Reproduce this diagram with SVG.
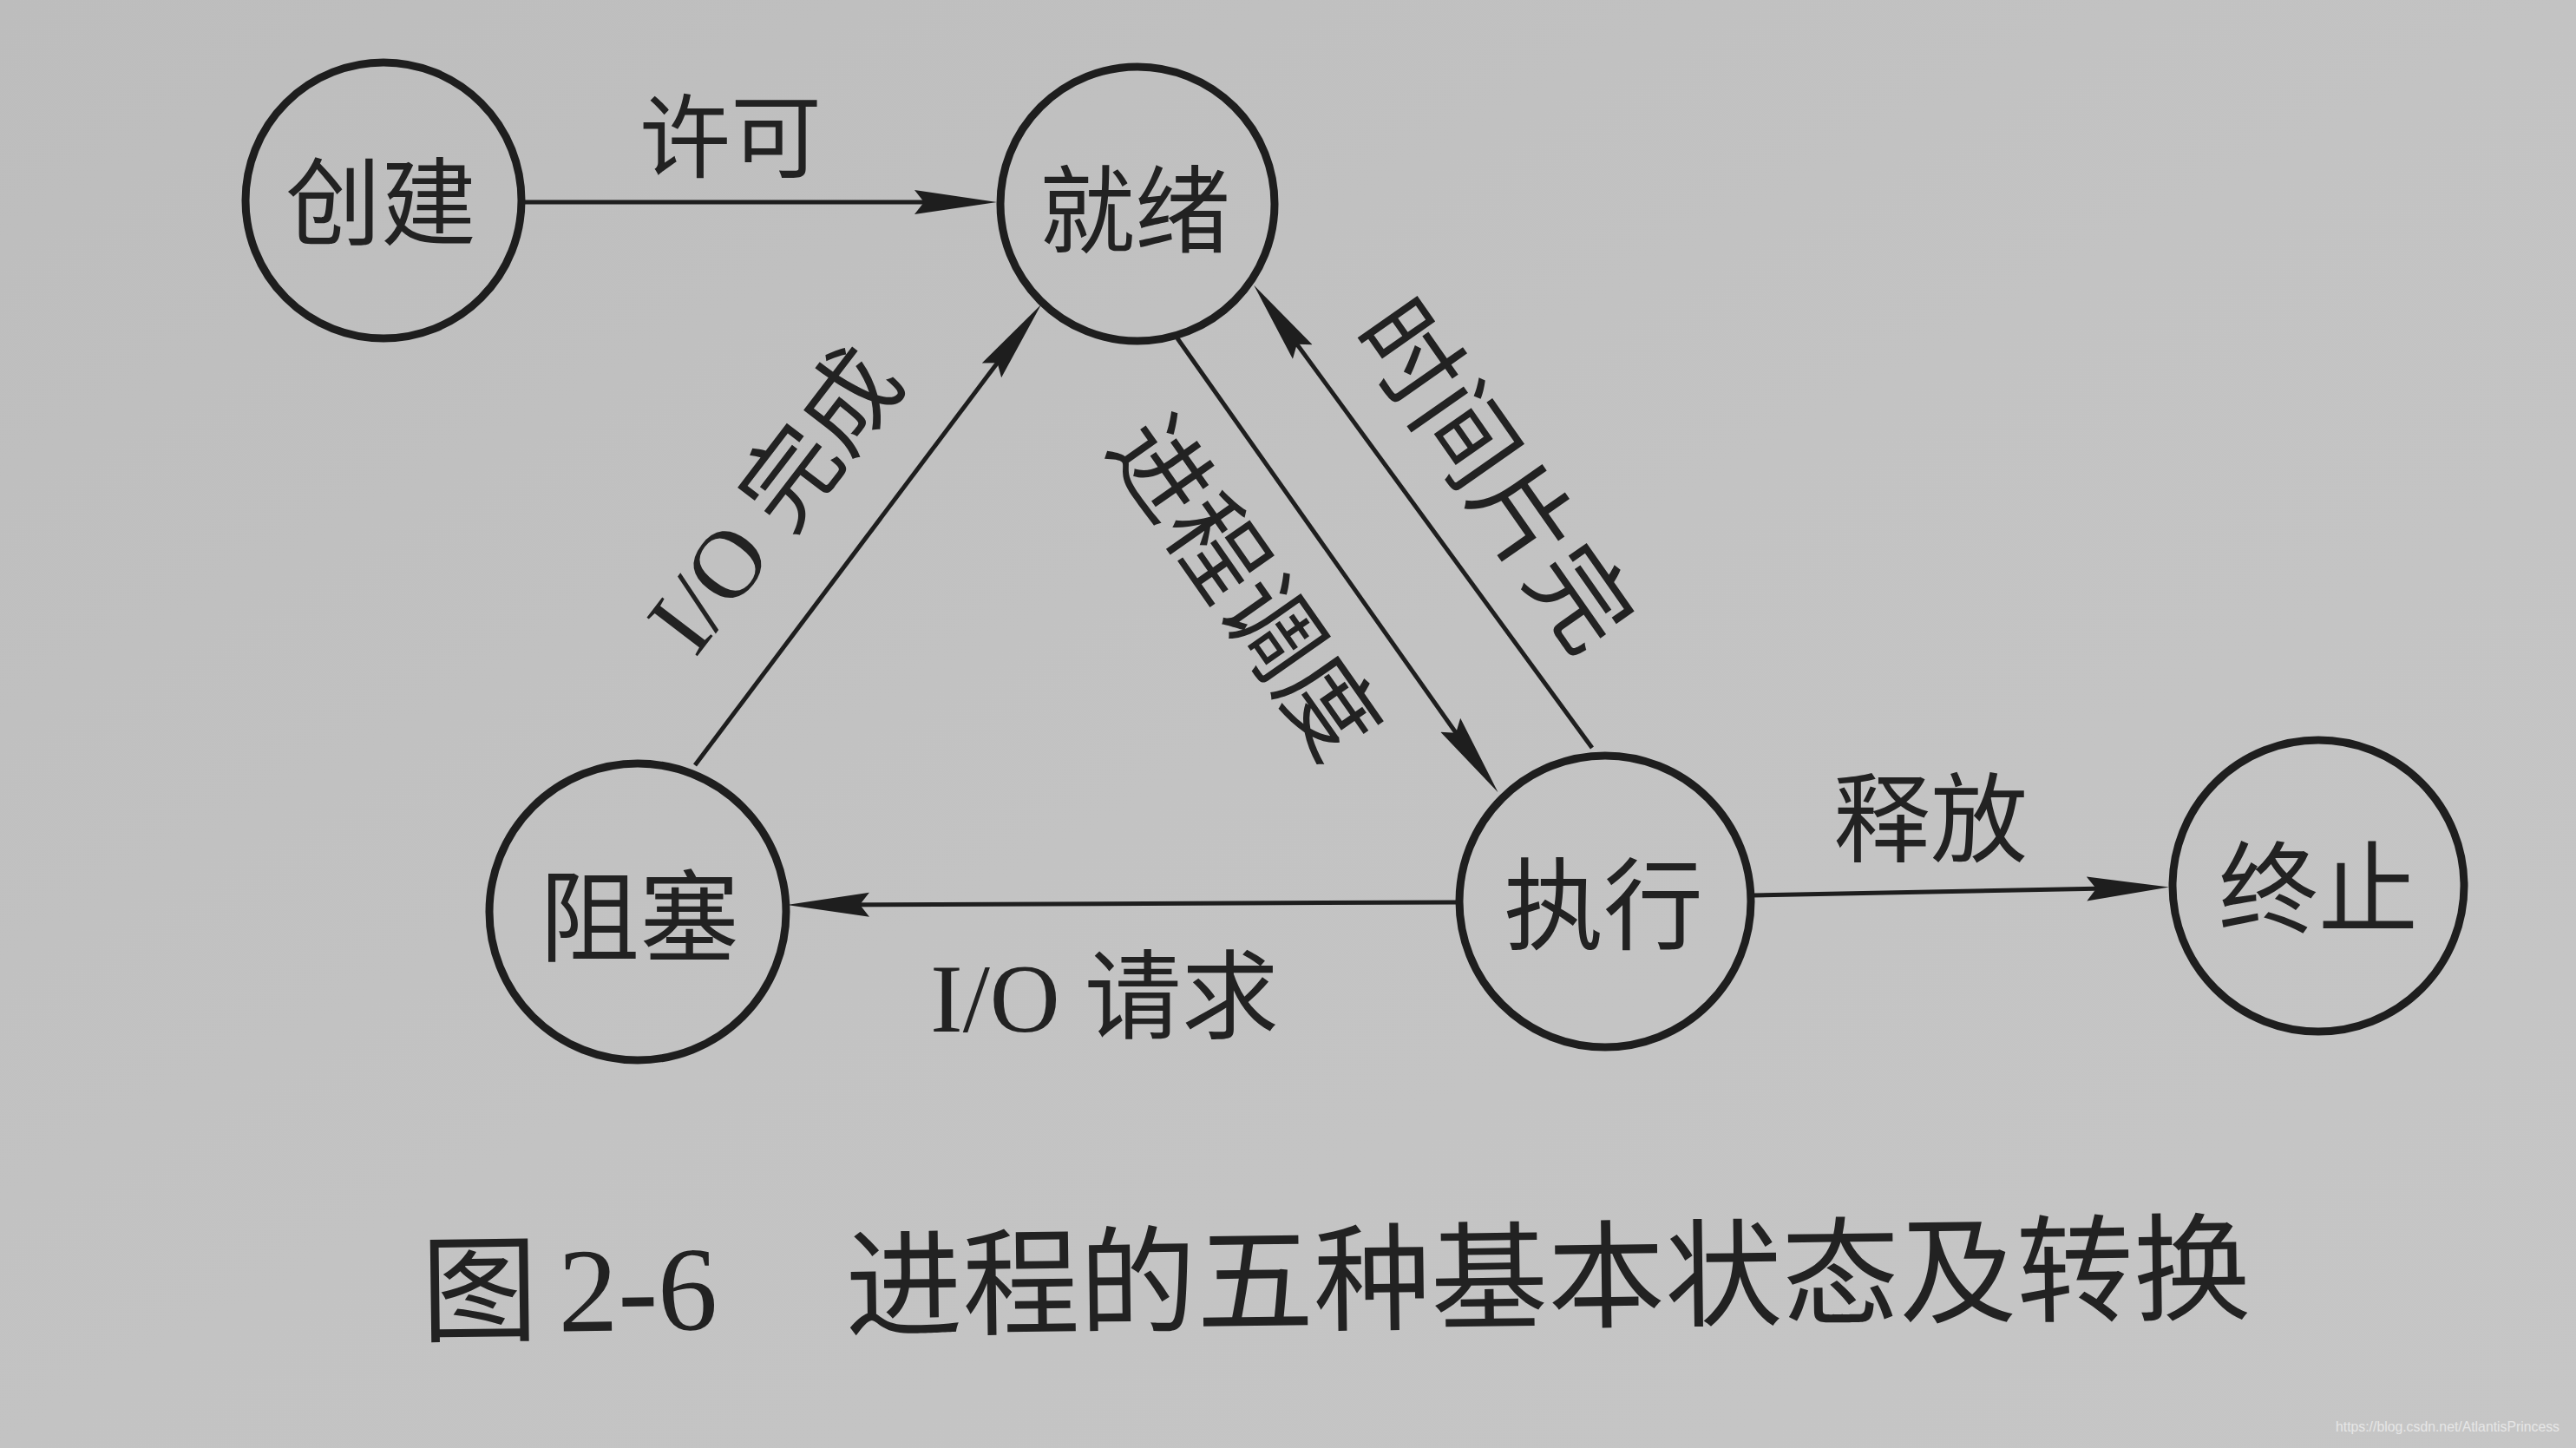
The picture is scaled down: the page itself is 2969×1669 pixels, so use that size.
<svg xmlns="http://www.w3.org/2000/svg" width="2969" height="1669" viewBox="0 0 2969 1669">
<defs>
<style>
.node{fill:none;stroke:#1e1e1e;stroke-width:9}
.lbl{font-family:"Noto Sans CJK SC","Liberation Sans",sans-serif;fill:#222;text-anchor:middle;dominant-baseline:central}
.mix{font-family:"Liberation Serif","Noto Sans CJK SC",serif;fill:#222;text-anchor:middle;dominant-baseline:central}
.edge{stroke:#1e1e1e;stroke-width:5;fill:none;marker-end:url(#arr)}
.cap{font-family:"Noto Sans CJK SC",sans-serif;fill:#222;font-size:135px}
</style>
<marker id="arr" markerUnits="userSpaceOnUse" markerWidth="100" markerHeight="32" viewBox="0 -16 100 32" refX="75" refY="0" orient="auto">
<path d="M0,-14 L95,0 L0,14 L11,0 Z" fill="#1e1e1e"/>
</marker>
<linearGradient id="bg" x1="0" y1="0" x2="1" y2="1">
<stop offset="0" stop-color="#bdbdbd"/>
<stop offset="0.5" stop-color="#c3c3c3"/>
<stop offset="1" stop-color="#c6c6c6"/>
</linearGradient>
</defs>
<rect x="0" y="0" width="2969" height="1669" fill="url(#bg)"/>

<g id="connectors">
<line class="edge" x1="605" y1="233" x2="1129" y2="233"/>
<line class="edge" x1="801" y1="882" x2="1188" y2="367"/>
<line class="edge" x1="1357" y1="390" x2="1715" y2="897"/>
<line class="edge" x1="1835" y1="862" x2="1457" y2="345"/>
<line class="edge" x1="1680" y1="1040" x2="927" y2="1043"/>
<line class="edge" x1="2020" y1="1032" x2="2480" y2="1023"/>
<text class="lbl" x="842" y="150" font-size="105">许可</text>
<text class="mix" font-size="112" transform="translate(893,577) rotate(-52.6)">I/O 完成</text>
<text class="lbl" font-size="112" transform="translate(1442,672) rotate(55)">进程调度</text>
<text class="lbl" font-size="115" transform="translate(1730,543) rotate(55)">时间片完</text>
<text class="mix" x="1273" y="1151" font-size="112">I/O 请求</text>
<text class="lbl" x="2225" y="936" font-size="112">释放</text>
</g>

<g id="node-create">
<circle class="node" cx="442" cy="231" r="159"/>
<text class="lbl" x="439" y="226" font-size="110">创建</text>
</g>
<g id="node-ready">
<circle class="node" cx="1311" cy="235" r="158"/>
<text class="lbl" x="1308" y="235" font-size="110">就绪</text>
</g>
<g id="node-blocked">
<circle class="node" cx="735" cy="1051" r="171"/>
<text class="lbl" x="737" y="1049" font-size="115">阻塞</text>
</g>
<g id="node-running">
<circle class="node" cx="1850" cy="1039" r="168"/>
<text class="lbl" x="1848" y="1035" font-size="115">执行</text>
</g>
<g id="node-exit">
<circle class="node" cx="2672" cy="1021" r="168"/>
<text class="lbl" x="2672" y="1016" font-size="115">终止</text>
</g>

<g id="caption" transform="rotate(-0.7 1500 1475)">
<text class="cap" x="485" y="1524">图</text>
<text x="643" y="1524" font-family="Liberation Serif, serif" font-size="138" fill="#222">2-6</text>
<text class="cap" x="974" y="1524">进程的五种基本状态及转换</text>
</g>
<text x="2692" y="1650" font-family="Liberation Sans, sans-serif" font-size="17" fill="#e6e6e6" textLength="258" lengthAdjust="spacingAndGlyphs">https://blog.csdn.net/AtlantisPrincess</text>
</svg>
